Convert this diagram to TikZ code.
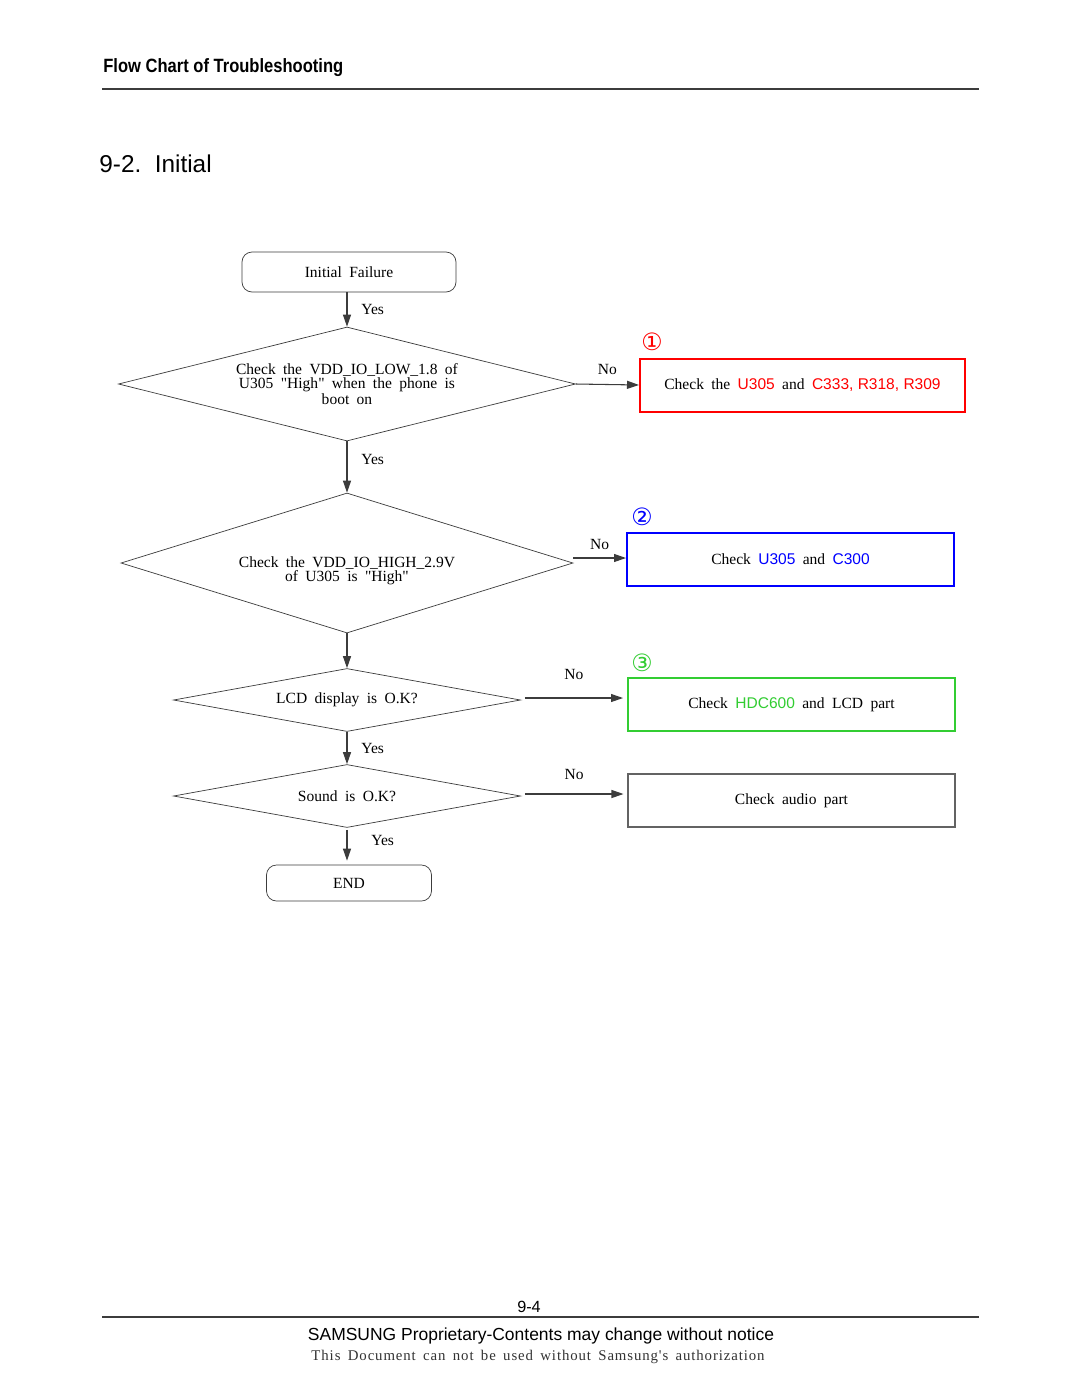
\documentclass[tikz,border=0pt]{standalone}
\usepackage{fontspec}
\setmainfont{Liberation Serif}[WordSpace=1.9]
\newfontfamily\hdrfont{Liberation Sans}[FakeStretch=0.86]
\newfontfamily\reffont{Liberation Sans}
\newfontfamily\circfont{DejaVu Sans}
\newfontfamily\notefont{Liberation Serif}[LetterSpace=6,WordSpace=1.6]
\usepackage{xcolor}
\usetikzlibrary{shapes,arrows,positioning,calc,arrows.meta}
\definecolor{refred}{RGB}{255,0,0}
\definecolor{refblue}{RGB}{0,0,255}
\definecolor{refgreen}{RGB}{50,205,50}
\definecolor{linegray}{RGB}{60,60,60}
\newcommand\pxl{0.5667pt}
\newcommand\partref[2]{{\reffont\color{#1}#2}}
\newcommand\dq{\XeTeXglyph\XeTeXcharglyph"22\relax}

\begin{document}
\begin{tikzpicture}[x=\pxl, y=-\pxl, node distance=2cm, auto,
    >={Triangle[length=12*\pxl, width=8*\pxl]},
    flowtext/.style={font=\fontsize{8.8}{7.9}\selectfont},
    terminal/.style={draw=linegray, rectangle, rounded corners=10*\pxl, flowtext},
    decision/.style={draw=linegray, diamond, aspect=4, inner sep=0pt, align=center, flowtext},
    checkbox/.style={draw, rectangle, line width=2*\pxl, minimum height=53*\pxl, flowtext},
    circnum/.style={anchor=south west, inner sep=0pt, font=\circfont\fontsize{13.5}{13.5}\selectfont},
    flowline/.style={->, draw=linegray, line width=0.6pt},
    lbl/.style={flowtext, text=black}]
    \useasboundingbox[fill=white] (0,0) rectangle (1080,1397);

    % Header
    \node [anchor=base west, inner sep=0pt, font=\hdrfont\bfseries\fontsize{10.9}{12}\selectfont] (header) at (103,72) {Flow Chart of Troubleshooting};
    \draw [linegray, line width=0.6pt] (102,89) -- (979,89);
    \node [anchor=west, inner sep=0pt, font=\reffont\fontsize{13.8}{15}\selectfont] (title) at (99,164) {9-2.\ \ Initial};

    % Main column
    \node [terminal, minimum width=214*\pxl, minimum height=40*\pxl] (start) at (349,272) {Initial Failure};
    \node [decision, minimum width=457*\pxl, minimum height=114*\pxl] (vlow) at (347,384)
        {Check the VDD\_IO\_LOW\_1.8 of\\U305 \dq High\dq{} when the phone is\\boot on};
    \node [decision, minimum width=452*\pxl, minimum height=140*\pxl,
        label={[flowtext, align=center, yshift=-8*\pxl]center:Check the VDD\_IO\_HIGH\_2.9V\\of U305 is \dq High\dq}] (vhigh) at (347,563) {};
    \node [decision, minimum width=347*\pxl, minimum height=63*\pxl] (lcd) at (347,700) {LCD display is O.K?};
    \node [decision, minimum width=347*\pxl, minimum height=63*\pxl] (sound) at (347,796) {Sound is O.K?};
    \node [terminal, minimum width=165*\pxl, minimum height=36*\pxl] (finish) at (349,883) {END};

    % Check boxes
    \node [checkbox, draw=refred, minimum width=325*\pxl] (chkpwr) at (802.5,385)
        {Check the \partref{refred}{U305} and \partref{refred}{C333, R318, R309}};
    \node [checkbox, draw=refblue, minimum width=327*\pxl] (chkreg) at (790.5,559.5)
        {Check \partref{refblue}{U305} and \partref{refblue}{C300}};
    \node [checkbox, draw=refgreen, minimum width=327*\pxl] (chklcd) at (791.5,704.5)
        {Check \partref{refgreen}{HDC600} and LCD part};
    \node [checkbox, draw=linegray!80, line width=0.6pt, minimum width=327*\pxl] (chkaudio) at (791.5,800.5)
        {Check audio part};

    % Circled numbers
    \node [circnum, text=refred] (num1) at ([xshift=2*\pxl, yshift=6*\pxl]chkpwr.north west) {①};
    \node [circnum, text=refblue] (num2) at ([xshift=5*\pxl, yshift=6*\pxl]chkreg.north west) {②};
    \node [circnum, text=refgreen] (num3) at ([xshift=4*\pxl, yshift=5*\pxl]chklcd.north west) {③};

    % Yes path
    \draw [flowline] (start.south -| vlow.north) -- (vlow.north) node[lbl, midway, right, xshift=8*\pxl] {Yes};
    \draw [flowline] (vlow.south) -- (vhigh.north) node[lbl, pos=0.35, right, xshift=8*\pxl] {Yes};
    \draw [flowline] (vhigh.south) -- (lcd.north);
    \draw [flowline] (lcd.south) -- (sound.north) node[lbl, midway, right, xshift=8*\pxl] {Yes};
    \draw [flowline] ([yshift=-2*\pxl]sound.south) -- ([yshift=4*\pxl]sound.south |- finish.north) node[lbl, pos=0.35, right, xshift=18*\pxl] {Yes};

    % No path
    \draw [flowline] (vlow.east) -- (chkpwr.west) node[lbl, midway, above, yshift=3*\pxl] {No};
    \draw [flowline] ([yshift=5*\pxl]vhigh.east) -- ([yshift=5*\pxl]vhigh.east -| chkreg.west) node[lbl, pos=0.5, above, yshift=2*\pxl] {No};
    \draw [flowline, shorten <=4*\pxl, shorten >=4*\pxl] ([yshift=2*\pxl]lcd.east) -- ([yshift=2*\pxl]lcd.east -| chklcd.west) node[lbl, midway, above, yshift=12*\pxl] {No};
    \draw [flowline, shorten <=4*\pxl, shorten >=4*\pxl] ([yshift=2*\pxl]sound.east) -- ([yshift=2*\pxl]sound.east -| chkaudio.west) node[lbl, midway, above, yshift=8*\pxl] {No};

    % Footer
    \node [font=\reffont\fontsize{9.2}{11}\selectfont] (pageno) at (529,1307) {9-4};
    \draw [linegray, line width=0.6pt] (102,1317) -- (979,1317);
    \node [font=\reffont\fontsize{9.9}{12}\selectfont] (notice) at (541,1336) {SAMSUNG Proprietary-Contents may change without notice};
    \node [font=\notefont\fontsize{8.4}{10}\selectfont, text=black!80] (auth) at (538,1357) {This Document can not be used without Samsung's authorization};
\end{tikzpicture}
\end{document}
